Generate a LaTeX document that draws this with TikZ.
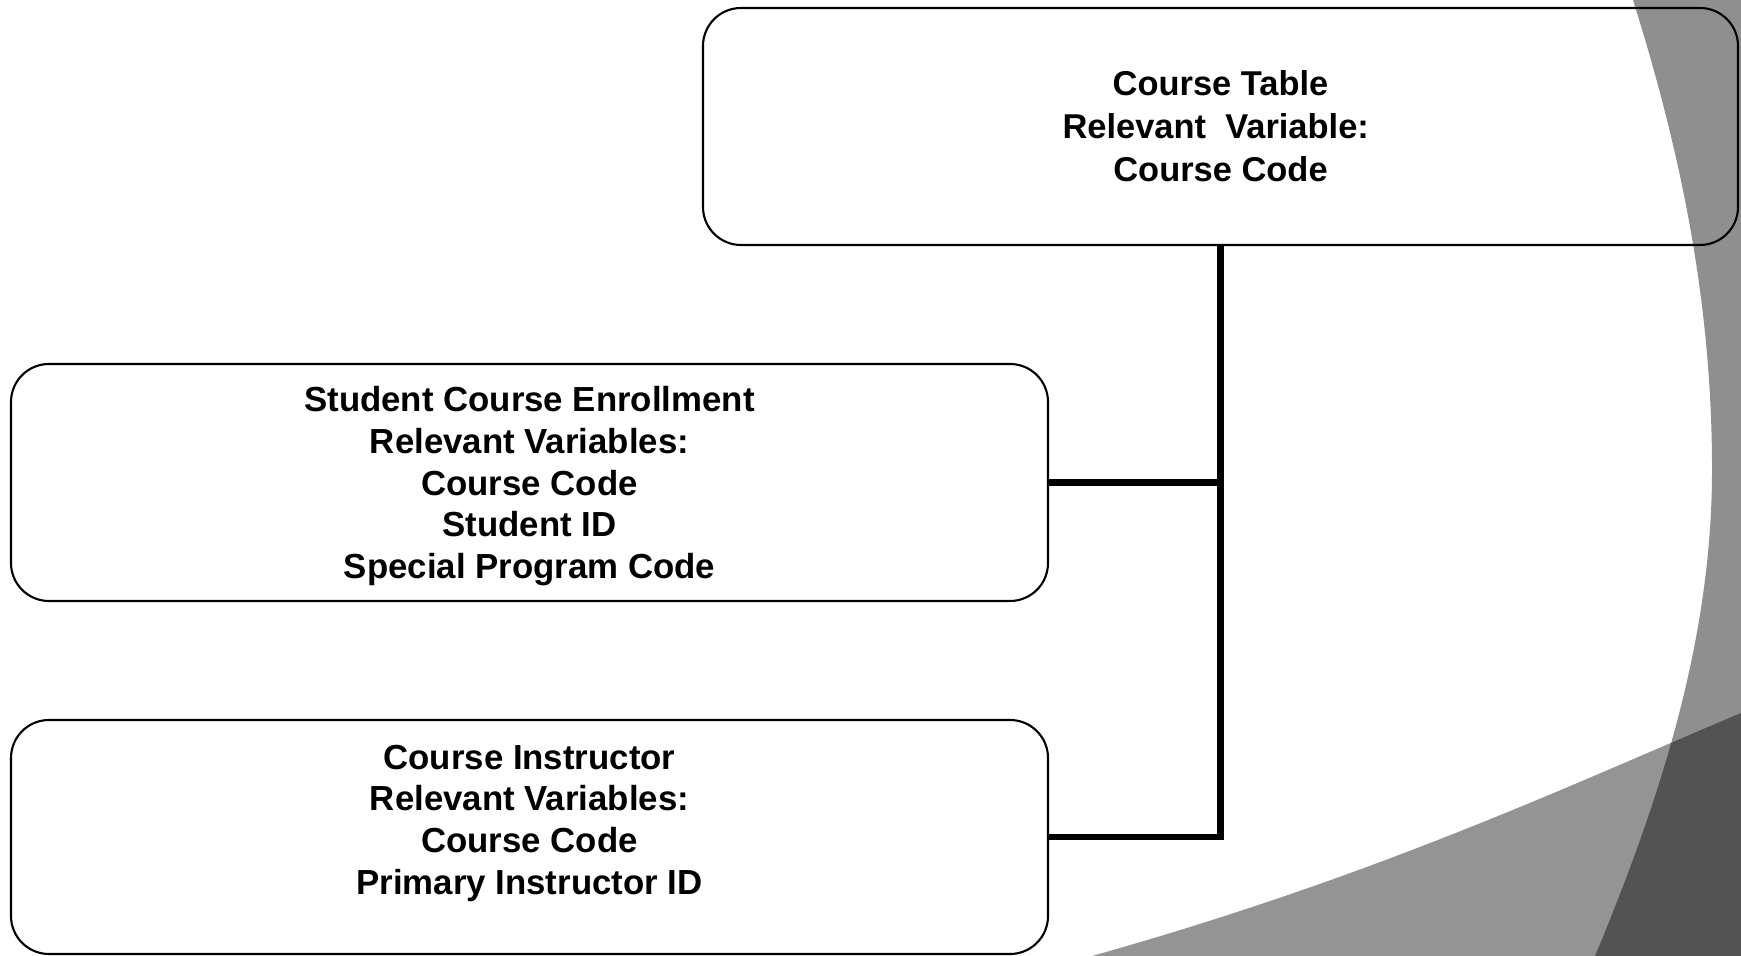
\documentclass[tikz,border=0pt]{standalone}
\usepackage{fontspec}
\setmainfont{Liberation Sans}
\begin{document}
\begin{tikzpicture}[
    tablebox/.style={draw, line width=0.6pt, rounded corners=0.38cm, inner sep=0pt,
        minimum width=10.37cm, minimum height=2.37cm,
        align=center, font=\bfseries\fontsize{9.9}{11.85}\selectfont},
    link/.style={line width=1.9pt, line join=miter}
]
\useasboundingbox (0,0) rectangle (17.41,9.56);

% grey bands on the right
\fill[black, fill opacity=0.44] (16.33,9.56) .. controls (16.80,8.06) and (17.12,6.56) .. (17.12,4.86)
    .. controls (17.12,3.16) and (16.60,1.56) .. (15.95,0) -- (17.41,0) -- (17.41,9.56) -- cycle;
\fill[black, fill opacity=0.42] (10.92,0) .. controls (13.80,0.81) and (15.70,1.71) .. (17.41,2.43)
    -- (17.41,0) -- cycle;

% tables
\node[tablebox, minimum width=10.35cm, font=\bfseries\fontsize{9.8}{12.2}\selectfont]
    (course) at (12.205,8.295) {Course Table\\Relevant\ \ Variable:\mbox{\ }\\Course Code};
\node[tablebox, text depth=0pt] (enrol) at (5.295,4.735)
    {Student Course Enrollment\\Relevant Variables:\\Course Code\\Student ID\\Special Program Code};
\node[tablebox, minimum height=2.34cm, text depth=10pt] (instr) at (5.295,1.19)
    {Course Instructor\\Relevant Variables:\\Course Code\\Primary Instructor ID};

% links
\draw[link] (course.south) -- (course.south |- instr.east) -- (instr.east);
\draw[link] (enrol.east) -- (enrol.east -| course.south);
\end{tikzpicture}
\end{document}
